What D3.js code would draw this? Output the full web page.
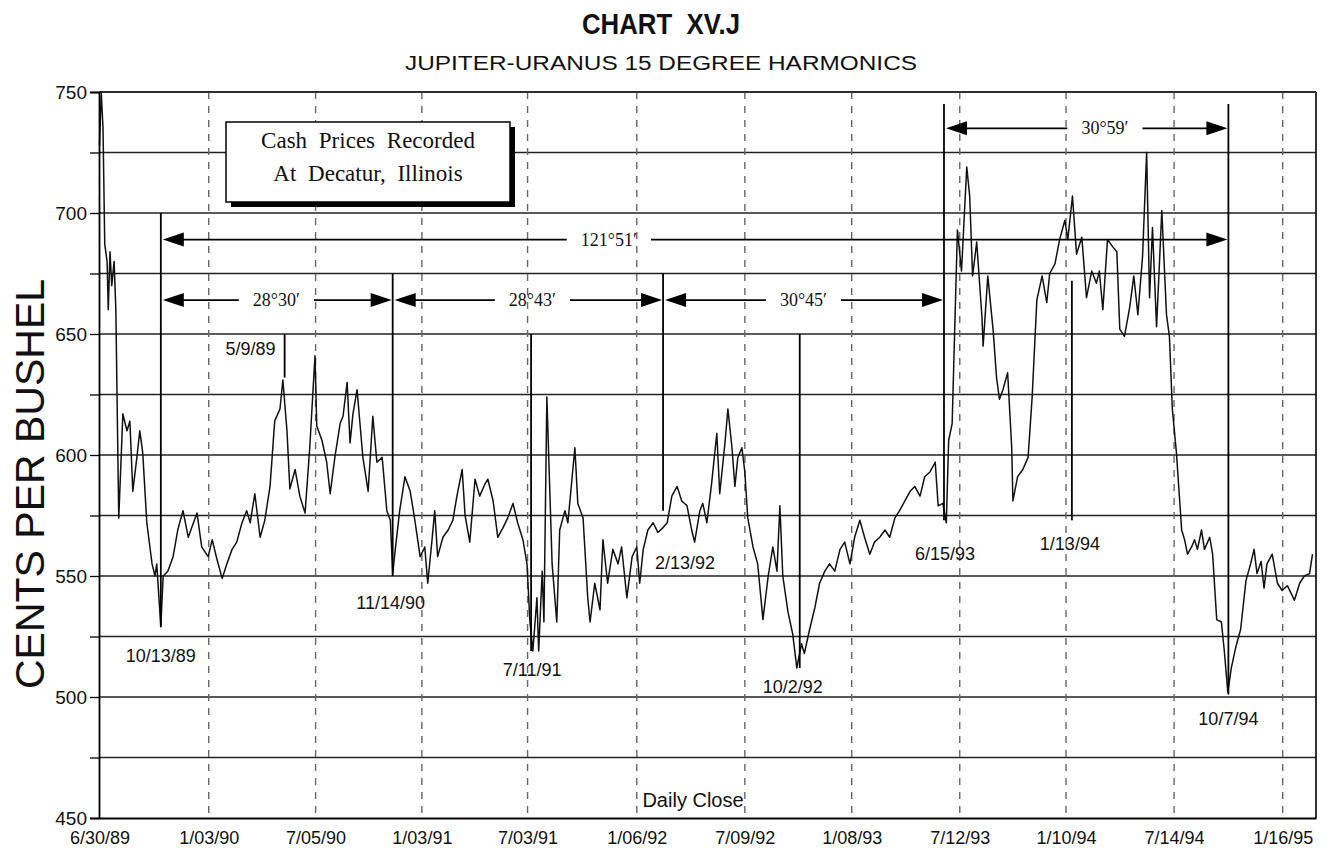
<!DOCTYPE html>
<html><head><meta charset="utf-8">
<script src="https://cdn.jsdelivr.net/npm/d3@7"></script>
<style>body{margin:0;background:#fff} svg{display:block}</style>
</head><body><svg id="c" width="1331" height="850"></svg>
<script>
// ---------------- DATA ----------------
const dates = [
"1989-06-30","1989-07-03","1989-07-06","1989-07-09","1989-07-13","1989-07-15","1989-07-18","1989-07-21","1989-07-25","1989-07-28",
"1989-08-01","1989-08-02","1989-08-09","1989-08-16","1989-08-21","1989-08-26","1989-09-02","1989-09-07","1989-09-12","1989-09-19",
"1989-09-28","1989-10-03","1989-10-06","1989-10-13","1989-10-17","1989-10-25","1989-11-03","1989-11-11","1989-11-20","1989-11-29",
"1989-12-05","1989-12-14","1989-12-22","1990-01-02","1990-01-09","1990-01-17","1990-01-26","1990-02-03","1990-02-12","1990-02-20",
"1990-03-01","1990-03-09","1990-03-15","1990-03-23","1990-04-01","1990-04-09","1990-04-18","1990-04-26","1990-05-05","1990-05-10",
"1990-05-17","1990-05-22","1990-05-31","1990-06-08","1990-06-17","1990-06-25","1990-07-04","1990-07-07","1990-07-16","1990-07-24",
"1990-07-30","1990-08-07","1990-08-16","1990-08-21","1990-08-28","1990-09-02","1990-09-07","1990-09-14","1990-09-19","1990-09-24",
"1990-10-03","1990-10-11","1990-10-18","1990-10-27","1990-11-04","1990-11-10","1990-11-14","1990-11-18","1990-11-26","1990-12-05",
"1990-12-14","1990-12-22","1990-12-31","1991-01-08","1991-01-13","1991-01-20","1991-01-25","1991-01-30","1991-02-08","1991-02-17",
"1991-02-25","1991-03-04","1991-03-13","1991-03-18","1991-03-26","1991-04-04","1991-04-12","1991-04-21","1991-04-26","1991-05-05",
"1991-05-13","1991-05-22","1991-05-30","1991-06-08","1991-06-16","1991-06-25","1991-07-02","1991-07-07","1991-07-12","1991-07-19",
"1991-07-22","1991-07-28","1991-07-31","1991-08-05","1991-08-14","1991-08-22","1991-08-27","1991-09-05","1991-09-10","1991-09-22",
"1991-09-27","1991-10-06","1991-10-14","1991-10-18","1991-10-26","1991-11-04","1991-11-09","1991-11-17","1991-11-26","1991-12-05",
"1991-12-11","1991-12-20","1991-12-29","1992-01-06","1992-01-11","1992-01-17","1992-01-25","1992-02-03","1992-02-11","1992-02-20",
"1992-02-27","1992-03-06","1992-03-15","1992-03-23","1992-04-01","1992-04-09","1992-04-14","1992-04-23","1992-04-28","1992-05-05",
"1992-05-13","1992-05-22","1992-05-27","1992-06-05","1992-06-10","1992-06-17","1992-06-22","1992-06-27","1992-07-04","1992-07-09",
"1992-07-14","1992-07-23","1992-07-31","1992-08-09","1992-08-18","1992-08-26","1992-09-02","1992-09-07","1992-09-12","1992-09-21",
"1992-09-29","1992-10-06","1992-10-14","1992-10-19","1992-10-28","1992-11-06","1992-11-14","1992-11-23","1992-12-01","1992-12-10",
"1992-12-19","1992-12-27","1993-01-05","1993-01-13","1993-01-22","1993-01-30","1993-02-08","1993-02-16","1993-02-25","1993-03-06",
"1993-03-14","1993-03-23","1993-03-31","1993-04-09","1993-04-18","1993-04-26","1993-05-05","1993-05-13","1993-05-22","1993-05-31",
"1993-06-05","1993-06-13","1993-06-19","1993-06-23","1993-06-29","1993-07-08","1993-07-15","1993-07-24","1993-07-29","1993-08-03",
"1993-08-10","1993-08-19","1993-08-21","1993-08-29","1993-09-07","1993-09-13","1993-09-18","1993-09-24","1993-10-02","1993-10-09",
"1993-10-11","1993-10-19","1993-10-28","1993-11-06","1993-11-13","1993-11-21","1993-11-30","1993-12-08","1993-12-13","1993-12-22",
"1993-12-30","1994-01-08","1994-01-13","1994-01-21","1994-01-28","1994-02-06","1994-02-14","1994-02-23","1994-03-03","1994-03-08",
"1994-03-14","1994-03-22","1994-03-31","1994-04-07","1994-04-12","1994-04-20","1994-04-29","1994-05-06","1994-05-13","1994-05-21",
"1994-05-28","1994-06-02","1994-06-07","1994-06-14","1994-06-23","1994-06-28","1994-07-01","1994-07-06","1994-07-11","1994-07-18",
"1994-07-27","1994-08-01","1994-08-06","1994-08-13","1994-08-18","1994-08-23","1994-08-30","1994-09-04","1994-09-13","1994-09-18",
"1994-09-25","1994-10-03","1994-10-08","1994-10-14","1994-10-20","1994-10-28","1994-11-05","1994-11-14","1994-11-22","1994-11-28",
"1994-12-03","1994-12-10","1994-12-15","1994-12-20","1994-12-29","1995-01-07","1995-01-15","1995-01-24","1995-02-05","1995-02-14",
"1995-02-22","1995-03-03","1995-03-08"];
const prices = [
728,750,735,687,680,660,684,670,680,660,
590,574,617,610,614,585,599,610,601,572,
555,550,555,529,550,552,558,569,577,566,
570,576,562,558,565,557,549,555,561,564,
572,577,572,584,566,573,587,614,619,631,
610,586,594,583,576,603,641,612,606,597,
584,599,613,616,630,605,617,627,613,599,
585,616,597,599,577,573,551,560,577,591,
585,573,558,562,547,564,577,558,566,569,
573,583,594,575,564,590,583,588,590,581,
566,570,574,580,572,565,555,531,519,541,
519,552,531,624,555,531,569,577,572,603,
580,574,541,531,547,536,565,547,561,555,
562,541,558,562,547,561,569,572,568,570,
572,583,587,581,579,569,564,577,580,572,
588,609,584,605,619,603,587,599,603,593,
574,562,555,532,550,562,552,579,550,535,
526,512,522,518,528,537,547,552,555,552,
561,564,555,566,573,566,559,564,566,569,
566,574,577,581,585,587,583,591,593,597,
579,580,572,606,613,693,676,719,707,674,
688,657,645,674,652,632,623,627,634,603,
581,591,594,599,624,664,674,663,675,679,
689,697,689,707,683,690,665,676,671,676,
660,689,686,684,652,649,661,674,658,682,
725,665,694,653,701,674,658,649,619,601,
569,565,559,562,565,561,569,561,566,559,
532,531,519,502,512,521,528,548,555,561,
551,556,545,555,559,547,544,546,540,547,
550,551,559];

const yTickValues = [750,700,650,600,550,500,450];
const xTickDates = ["1989-06-30","1990-01-03","1990-07-05","1991-01-03","1991-07-03","1992-01-06","1992-07-09","1993-01-08","1993-07-12","1994-01-10","1994-07-14","1995-01-16"];
const xTickLabels = ["6/30/89","1/03/90","7/05/90","1/03/91","7/03/91","1/06/92","7/09/92","1/08/93","7/12/93","1/10/94","7/14/94","1/16/95"];

const markerDates  = ["1989-10-13","1990-05-13","1990-11-14","1991-07-09","1992-02-20","1992-10-11","1993-06-15","1994-01-20","1994-10-15"];
const markerLabels = ["10/13/89","5/9/89","11/14/90","7/11/91","2/13/92","10/2/92","6/15/93","1/13/94","10/7/94"];
const markerTop    = [700,650,675,650,675,650,745,672,745];
const markerBottom = [529,632,550,519,577,512,573,573,501];

const spanLabels = ["121°51′","28°30′","28°43′","30°45′","30°59′"];
const spanStart  = ["1989-10-13","1989-10-13","1990-11-14","1992-02-20","1993-06-15"];
const spanEnd    = ["1994-10-15","1990-11-14","1992-02-20","1993-06-15","1994-10-15"];
const spanLevel  = [689,664,664,664,735];

const noteLines = ["Cash Prices Recorded","At Decatur, Illinois"];
const titleText = "CHART  XV.J";
const subtitleText = "JUPITER-URANUS 15 DEGREE HARMONICS";
const yTitle = "CENTS PER BUSHEL";
const xTitle = "Daily Close";

// ---------------- LAYOUT ----------------
const parse = d3.timeParse("%Y-%m-%d");
const svg = d3.select("#c");
const L = 99.5, R = 1316, T = 92, B = 818;
const x = d3.scaleTime().domain([parse("1989-06-30"), parse("1995-03-14")]).range([L, R]);
const y = d3.scaleLinear().domain([450, 750]).range([B, T]);
const sans = "'Liberation Sans', Arial, sans-serif";
const serif = "'Liberation Serif', 'Times New Roman', serif";

// label placement for marker labels: [dx, dy below line end, anchor]
const markerLabelPos = [[0,35,"middle"],[-9,21,"end"],[-2,33,"middle"],[1,25,"middle"],[-8,58,"start"],[-7,25,"middle"],[1,40,"middle"],[-2,30,"middle"],[0,30,"middle"]];
const spanTextFrac = [0.419,0.496,0.515,0.498,0.565];

// horizontal grid
svg.append("g").selectAll("line").data(d3.range(475, 751, 25)).join("line")
  .attr("x1", L).attr("x2", R).attr("y1", d => y(d)).attr("y2", d => y(d))
  .attr("stroke", "#222").attr("stroke-width", 1.6);

// vertical dashed grid
svg.append("g").selectAll("line").data(xTickDates.slice(1)).join("line")
  .attr("x1", d => x(parse(d))).attr("x2", d => x(parse(d)))
  .attr("y1", T).attr("y2", B)
  .attr("stroke", "#666").attr("stroke-width", 1.4).attr("stroke-dasharray", "7,7");

// series
const series = dates.map((d, i) => ({date: parse(d), v: prices[i]}));
svg.append("path").datum(series)
  .attr("fill", "none").attr("stroke", "#111").attr("stroke-width", 1.5)
  .attr("stroke-linejoin", "round")
  .attr("d", d3.line().x(d => x(d.date)).y(d => y(d.v)));

// marker lines + labels
markerDates.forEach((d, i) => {
  const xx = x(parse(d));
  svg.append("line").attr("x1", xx).attr("x2", xx)
    .attr("y1", y(markerTop[i])).attr("y2", y(markerBottom[i]))
    .attr("stroke", "#000").attr("stroke-width", 1.8);
  const p = markerLabelPos[i];
  const base = i === 1 ? y(markerTop[i]) + p[1] : y(markerBottom[i]) + p[1];
  svg.append("text").attr("x", xx + p[0]).attr("y", base)
    .attr("text-anchor", p[2]).attr("font-family", sans).attr("font-size", 18)
    .attr("fill", "#111").text(markerLabels[i]);
});

// span arrows
spanLabels.forEach((lab, i) => {
  const x1 = x(parse(spanStart[i])) + 2, x2 = x(parse(spanEnd[i])) - 1;
  const yy = y(spanLevel[i]);
  const cx = x1 + (x2 - x1) * spanTextFrac[i];
  const t = svg.append("text").attr("x", cx).attr("y", yy + 6)
    .attr("text-anchor", "middle").attr("font-family", serif).attr("font-size", 18)
    .attr("fill", "#111").text(lab);
  const w = t.node().getComputedTextLength();
  const gap = w / 2 + 14;
  svg.append("line").attr("x1", x1 + 10).attr("x2", cx - gap).attr("y1", yy).attr("y2", yy)
    .attr("stroke", "#000").attr("stroke-width", 1.8);
  svg.append("line").attr("x1", cx + gap).attr("x2", x2 - 10).attr("y1", yy).attr("y2", yy)
    .attr("stroke", "#000").attr("stroke-width", 1.8);
  svg.append("path").attr("d", `M${x1},${yy}L${x1+21},${yy-7}L${x1+21},${yy+7}Z`).attr("fill", "#000");
  svg.append("path").attr("d", `M${x2},${yy}L${x2-21},${yy-7}L${x2-21},${yy+7}Z`).attr("fill", "#000");
});

// note box
const bx = 226, by = 122, bw = 284, bh = 80;
svg.append("rect").attr("x", bx + 5).attr("y", by + 5).attr("width", bw).attr("height", bh).attr("fill", "#000");
svg.append("rect").attr("x", bx).attr("y", by).attr("width", bw).attr("height", bh)
  .attr("fill", "#fff").attr("stroke", "#000").attr("stroke-width", 1.5);
noteLines.forEach((s, i) => {
  svg.append("text").attr("x", bx + bw / 2).attr("y", by + 26 + i * 33)
    .attr("text-anchor", "middle").attr("font-family", serif).attr("font-size", 23)
    .attr("word-spacing", 6).attr("fill", "#111").text(s);
});

// frame
svg.append("line").attr("x1", R).attr("x2", R).attr("y1", T).attr("y2", B).attr("stroke", "#000").attr("stroke-width", 1.6);
svg.append("line").attr("x1", L).attr("x2", R).attr("y1", T).attr("y2", T).attr("stroke", "#222").attr("stroke-width", 1.6);

// axes
const yAxis = svg.append("g").attr("transform", `translate(${L - 0.5},0)`)
  .call(d3.axisLeft(y).tickValues(d3.range(450, 751, 25)).tickSize(9).tickPadding(3)
    .tickFormat(d => yTickValues.includes(d) ? d : ""));
yAxis.select(".domain").attr("stroke", "#000").attr("stroke-width", 1.8);
yAxis.selectAll(".tick line").attr("stroke", "#000").attr("stroke-width", 1.3);
yAxis.selectAll("text").attr("font-family", sans).attr("font-size", 19).attr("fill", "#111");

const xAxis = svg.append("g").attr("transform", `translate(0,${B})`)
  .call(d3.axisBottom(x).tickValues(xTickDates.map(parse)).tickSize(0).tickPadding(13)
    .tickFormat((d, i) => xTickLabels[i]));
xAxis.select(".domain").attr("stroke", "#000").attr("stroke-width", 1.8);
xAxis.selectAll("text").attr("font-family", sans).attr("font-size", 18).attr("fill", "#111");

// titles
svg.append("text").attr("x", 661).attr("y", 34).attr("text-anchor", "middle")
  .attr("font-family", sans).attr("font-weight", "bold").attr("font-size", 29)
  .attr("textLength", 158).attr("lengthAdjust", "spacingAndGlyphs")
  .attr("fill", "#111").style("white-space", "pre").text(titleText);
svg.append("text").attr("x", 661).attr("y", 70).attr("text-anchor", "middle")
  .attr("font-family", sans).attr("font-size", 20)
  .attr("textLength", 512).attr("lengthAdjust", "spacingAndGlyphs")
  .attr("fill", "#111").text(subtitleText);
svg.append("text").attr("transform", "translate(44,484) rotate(-90)").attr("text-anchor", "middle")
  .attr("font-family", sans).attr("font-size", 41).attr("fill", "#111").text(yTitle);
svg.append("text").attr("x", 693).attr("y", 807).attr("text-anchor", "middle")
  .attr("font-family", sans).attr("font-size", 20).attr("fill", "#111").text(xTitle);
</script></body></html>
